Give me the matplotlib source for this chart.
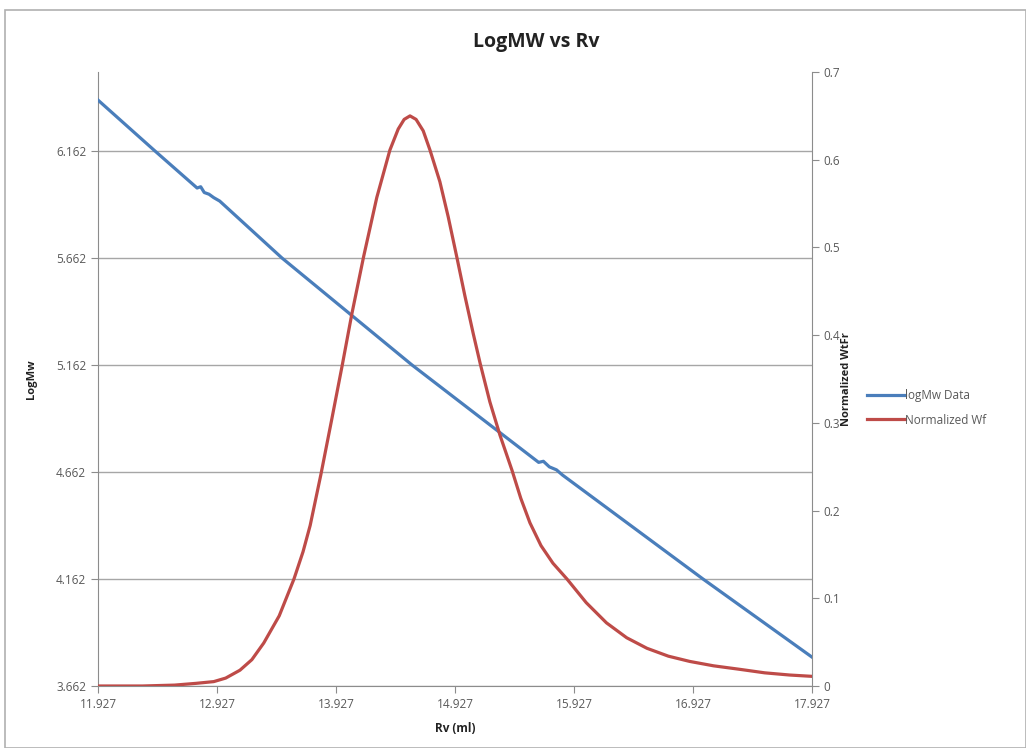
import matplotlib.pyplot as plt
from matplotlib.patches import Rectangle

plt.rcParams['font.family'] = ['Open Sans', 'DejaVu Sans']

# logMw data (left axis)
rv_mw = [11.927, 12.406, 12.76, 12.79, 12.82, 12.86, 12.90, 12.95,
         13.473, 14.566, 15.05, 15.63, 15.67, 15.72, 15.78, 15.83,
         17.011, 17.927]
log_mw = [6.400, 6.162, 5.989, 5.995, 5.968, 5.960, 5.944, 5.928,
          5.662, 5.162, 4.955, 4.707, 4.712, 4.686, 4.672, 4.648,
          4.162, 3.797]

# normalized weight fraction (right axis)
rv_wf = [11.927, 12.30, 12.57, 12.75, 12.90, 13.00, 13.12, 13.22, 13.32,
         13.45, 13.574, 13.65, 13.71, 13.80, 13.89, 13.98, 14.06, 14.16,
         14.27, 14.38, 14.45, 14.50, 14.549, 14.60, 14.66, 14.717, 14.80,
         14.87, 14.944, 15.01, 15.08, 15.14, 15.22, 15.305, 15.406, 15.48,
         15.557, 15.65, 15.75, 15.868, 16.03, 16.20, 16.37, 16.54, 16.72,
         16.90, 17.10, 17.32, 17.53, 17.74, 17.927]
wt_fr = [0.0, 0.0, 0.001, 0.003, 0.005, 0.009, 0.018, 0.030, 0.049,
         0.080, 0.122, 0.153, 0.183, 0.241, 0.303, 0.366, 0.424, 0.490,
         0.557, 0.611, 0.635, 0.646, 0.650, 0.646, 0.633, 0.611, 0.575,
         0.535, 0.488, 0.445, 0.402, 0.367, 0.324, 0.286, 0.246, 0.214,
         0.186, 0.160, 0.140, 0.122, 0.095, 0.072, 0.055, 0.043, 0.034,
         0.028, 0.023, 0.019, 0.015, 0.0125, 0.011]

x_ticks = [11.927, 12.927, 13.927, 14.927, 15.927, 16.927, 17.927]
left_ticks = [3.662, 4.162, 4.662, 5.162, 5.662, 6.162]
right_ticks = [0, 0.1, 0.2, 0.3, 0.4, 0.5, 0.6, 0.7]

blue = '#4a7ebb'
red = '#be4b48'
axc = '#8c8c8c'
txc = '#595959'

fig = plt.figure(figsize=(10.26, 7.48), dpi=100)
fig.patches.append(Rectangle((0.005, 0.0), 0.995, 0.987, transform=fig.transFigure,
                             fill=False, edgecolor='#b0b0b0', lw=1.2))

ax = fig.add_axes([0.0955, 0.0829, 0.6959, 0.8208])
ax2 = ax.twinx()

l1, = ax.plot(rv_mw, log_mw, color=blue, lw=2.3, label='logMw Data', zorder=3)
l2, = ax2.plot(rv_wf, wt_fr, color=red, lw=2.3, label='Normalized Wf', zorder=3,
               solid_joinstyle='round')

ax.set_xlim(11.927, 17.927)
ax.set_ylim(3.662, 6.531)
ax2.set_ylim(0, 0.7)

ax.set_xticks(x_ticks)
ax.set_xticklabels([f'{v:.3f}' for v in x_ticks])
ax.set_yticks(left_ticks)
ax.set_yticklabels([f'{v:.3f}' for v in left_ticks])
ax2.set_yticks(right_ticks)
ax2.set_yticklabels(['0', '0.1', '0.2', '0.3', '0.4', '0.5', '0.6', '0.7'])

ax.yaxis.grid(True, color='#a6a6a6', lw=1)
ax.set_axisbelow(True)

for a in (ax, ax2):
    a.spines['top'].set_visible(False)
    for s in ('left', 'right', 'bottom'):
        a.spines[s].set_color(axc)
    a.tick_params(colors=axc, labelcolor=txc, labelsize=8.5, length=5, direction='out')
ax.spines['right'].set_visible(False)
ax2.spines['left'].set_visible(False)
ax2.spines['bottom'].set_visible(False)

ax.set_xlabel('Rv (ml)', fontsize=8.5, fontweight='bold', color='#222222', labelpad=8)
ax.set_ylabel('LogMw', fontsize=8, fontweight='bold', color='#222222')
ax.yaxis.set_label_coords(-0.085, 0.5)
ax2.set_ylabel('Normalized WtFr', fontsize=8, fontweight='bold', color='#222222')
ax2.yaxis.set_label_coords(1.04, 0.5)

fig.text(0.5225, 0.944, 'LogMW vs Rv', ha='center', va='center',
         fontsize=14, fontweight='bold', color='#222222')

fig.legend(handles=[l1, l2], loc='center left', bbox_to_anchor=(0.835, 0.455),
           frameon=False, fontsize=8.5, handlelength=3.2, handletextpad=0.0,
           labelspacing=1.0, labelcolor=txc)

plt.savefig('out.png', dpi=100)
